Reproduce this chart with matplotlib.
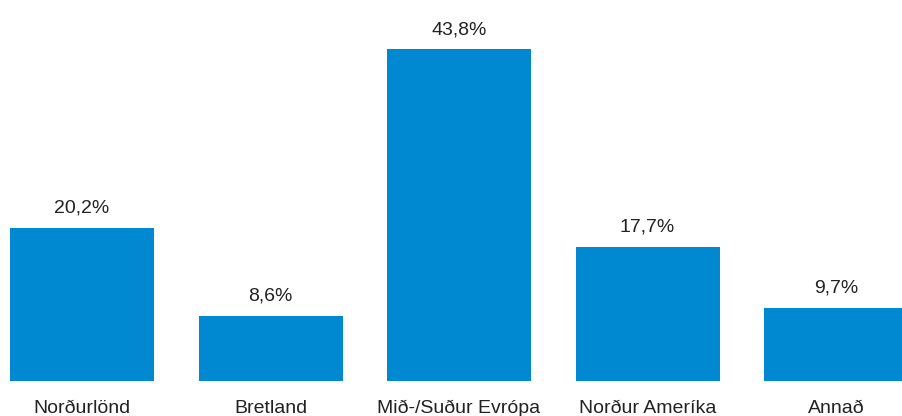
import matplotlib
matplotlib.use('Agg')
import matplotlib.pyplot as plt

# data
categories = ['Norðurlönd', 'Bretland', 'Mið-/Suður Evrópa', 'Norður Ameríka', 'Annað']
values = [20.2, 8.6, 43.8, 17.7, 9.7]
value_labels = ['20,2%', '8,6%', '43,8%', '17,7%', '9,7%']

plt.rcParams['font.family'] = ['Liberation Sans Narrow', 'Liberation Sans', 'DejaVu Sans']

fig = plt.figure(figsize=(9.03, 4.16), dpi=100)
ax = fig.add_axes([0, 35/416, 1, 381/416])

x = list(range(len(categories)))
ax.bar(x, values, width=0.764, color='#0088D1')

px = 72/100.  # points per pixel
for xi, v, lab, cat in zip(x, values, value_labels, categories):
    ax.annotate(lab, xy=(xi, v), xytext=(0, 15*px), textcoords='offset points',
                ha='center', va='baseline', fontsize=14, color='#222222')
    ax.annotate(cat, xy=(xi, 0), xytext=(0, -32*px), textcoords='offset points',
                ha='center', va='baseline', fontsize=14, color='#222222',
                annotation_clip=False)

ax.set_xlim(-0.435, 4.355)
ax.set_ylim(0, 50.3)
ax.axis('off')

fig.savefig('out.png', dpi=100)
